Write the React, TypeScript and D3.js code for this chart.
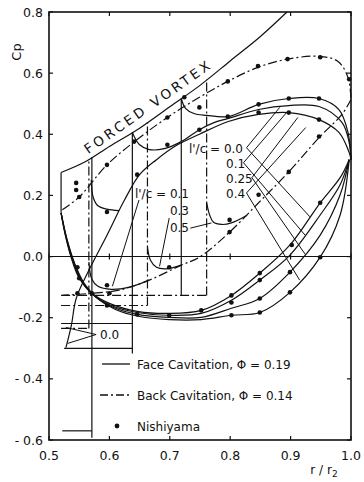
import React from 'react';
import * as d3 from 'd3';

type Pt = [number, number];

const xTicks = [0.5, 0.6, 0.7, 0.8, 0.9, 1.0];
const xTickLabels = ['0.5', '0.6', '0.7', '0.8', '0.9', '1.0'];
const yTicks = [0.8, 0.6, 0.4, 0.2, 0.0, -0.2, -0.4, -0.6];
const yTickLabels = ['0.8', '0.6', '0.4', '0.2', '0.0', '-0.2', '- 0.4', '- 0.6'];

// forced vortex line
const forcedVortex: Pt[] = [[0.52, 0.275], [0.56, 0.31], [0.6, 0.36], [0.65, 0.42], [0.7, 0.49], [0.75, 0.56], [0.8, 0.64], [0.85, 0.72], [0.894, 0.8]];

// back cavitation (dash-dot), outer loop
const backUpper: Pt[] = [[0.522, 0.153], [0.55, 0.195], [0.596, 0.3], [0.646, 0.383], [0.696, 0.455], [0.749, 0.521], [0.796, 0.573], [0.846, 0.619], [0.895, 0.646], [0.947, 0.655], [0.978, 0.639], [0.995, 0.586], [1.0, 0.514]];
const backLower: Pt[] = [[1.0, 0.514], [0.985, 0.465], [0.949, 0.393], [0.897, 0.277], [0.847, 0.176], [0.799, 0.08], [0.749, -0.002], [0.719, -0.028], [0.666, -0.077], [0.616, -0.11], [0.571, -0.12], [0.522, -0.127]];

// face cavitation upper branches
const faceUpper0: Pt[] = [[0.528, -0.298], [0.537, -0.225], [0.545, -0.137], [0.566, -0.045], [0.596, 0.07], [0.625, 0.185], [0.65, 0.268], [0.678, 0.317], [0.708, 0.36], [0.749, 0.4], [0.797, 0.442], [0.847, 0.465], [0.897, 0.471], [0.947, 0.448], [0.98, 0.406], [0.997, 0.34], [1.0, 0.317]];
const faceUpper1: Pt[] = [[0.638, 0.407], [0.641, 0.393], [0.65, 0.366], [0.666, 0.35], [0.691, 0.353], [0.719, 0.376], [0.749, 0.415], [0.774, 0.439], [0.797, 0.452], [0.847, 0.481], [0.897, 0.494], [0.947, 0.491], [0.985, 0.439], [0.997, 0.373], [1.0, 0.317]];
const faceUpper2: Pt[] = [[0.719, 0.517], [0.726, 0.485], [0.74, 0.468], [0.761, 0.462], [0.797, 0.458], [0.847, 0.498], [0.897, 0.517], [0.947, 0.517], [0.98, 0.481], [0.995, 0.406], [1.0, 0.317]];

// face cavitation lower branches, l'/c = 0.0, 0.1, 0.25, 0.4
const faceLower0: Pt[] = [[0.52, 0.143], [0.527, 0.07], [0.537, -0.005], [0.55, -0.071], [0.571, -0.12], [0.6, -0.153], [0.646, -0.179], [0.699, -0.186], [0.752, -0.176], [0.802, -0.127], [0.849, -0.054], [0.899, 0.038], [0.949, 0.176], [0.982, 0.258], [0.997, 0.317]];
const faceLower1: Pt[] = [[0.52, 0.143], [0.528, 0.065], [0.539, -0.012], [0.553, -0.078], [0.574, -0.127], [0.603, -0.16], [0.646, -0.183], [0.699, -0.192], [0.752, -0.186], [0.802, -0.143], [0.849, -0.077], [0.899, 0.005], [0.949, 0.136], [0.982, 0.235], [0.997, 0.317]];
const faceLower25: Pt[] = [[0.52, 0.143], [0.529, 0.06], [0.541, -0.018], [0.556, -0.084], [0.578, -0.133], [0.606, -0.166], [0.646, -0.189], [0.699, -0.199], [0.752, -0.199], [0.802, -0.169], [0.849, -0.137], [0.899, -0.051], [0.949, 0.07], [0.982, 0.202], [0.997, 0.317]];
const faceLower4: Pt[] = [[0.52, 0.143], [0.53, 0.055], [0.543, -0.025], [0.559, -0.09], [0.582, -0.14], [0.61, -0.173], [0.65, -0.196], [0.699, -0.206], [0.752, -0.206], [0.802, -0.192], [0.849, -0.183], [0.899, -0.117], [0.949, -0.002], [0.982, 0.136], [0.997, 0.317]];

// cavity closure hooks
const hookFace92: Pt[] = [[0.57, 0.251], [0.573, 0.195], [0.581, 0.166], [0.596, 0.155], [0.616, 0.15]];
const hookBack01: Pt[] = [[0.566, -0.018], [0.571, -0.074], [0.581, -0.097], [0.603, -0.107], [0.633, -0.1], [0.666, -0.077]];
const hookBack03: Pt[] = [[0.663, 0.031], [0.668, -0.012], [0.678, -0.035], [0.694, -0.04], [0.719, -0.028]];
const hookBack05: Pt[] = [[0.761, 0.176], [0.766, 0.136], [0.772, 0.113], [0.786, 0.105], [0.802, 0.11], [0.828, 0.135]];

// cavity pressure lines and closure jumps (solid: face, dash-dot: back)
const faceSegments: Pt[][] = [
  [[0.52, 0.275], [0.52, 0.143]],
  [[0.571, -0.593], [0.571, 0.326]],
  [[0.522, -0.57], [0.571, -0.57]],
  [[0.638, -0.317], [0.638, 0.407]],
  [[0.52, -0.219], [0.638, -0.219]],
  [[0.525, -0.3], [0.638, -0.3]],
  [[0.719, -0.127], [0.719, 0.517]],
];
const backSegments: Pt[][] = [
  [[0.52, -0.127], [0.761, -0.127]],
  [[0.761, -0.127], [0.761, 0.58]],
  [[0.52, -0.16], [0.663, -0.16]],
  [[0.663, -0.16], [0.663, 0.44]],
  [[0.52, -0.235], [0.566, -0.235]],
  [[0.566, -0.235], [0.566, 0.32]],
];

// Nishiyama points
const nishiyama: Pt[] = [
  [0.545, 0.241], [0.545, 0.218], [0.55, 0.195], [0.596, 0.3], [0.641, 0.376], [0.696, 0.455],
  [0.796, 0.573], [0.846, 0.623], [0.895, 0.646], [0.949, 0.652], [0.997, 0.58],
  [0.724, 0.521], [0.749, 0.488], [0.749, 0.415], [0.696, 0.366], [0.796, 0.458],
  [0.847, 0.498], [0.847, 0.471], [0.897, 0.517], [0.897, 0.471], [0.947, 0.517], [0.947, 0.448], [0.947, 0.393],
  [0.949, 0.176], [0.902, 0.038], [0.949, -0.002], [0.849, -0.054], [0.849, -0.077], [0.899, -0.051],
  [0.899, -0.117], [0.802, -0.127], [0.802, -0.15], [0.849, -0.137], [0.849, -0.183], [0.802, -0.192], [0.752, -0.176],
  [0.799, 0.12], [0.799, 0.08], [0.847, 0.202], [0.897, 0.277],
  [0.596, 0.146], [0.646, 0.268], [0.547, -0.035], [0.55, -0.071], [0.596, -0.094], [0.6, -0.12],
  [0.571, -0.12], [0.547, -0.12], [0.596, -0.16], [0.646, -0.189], [0.699, -0.192], [0.699, -0.035],
];

// labels: face l'/c values and their "<" leaders [vertex, up end, down end]
const faceLabels = ["l'/c = 0.0", '0.1', '0.25', '0.4'];
const faceLeaders: Pt[][] = [
  [[0.827, 0.356], [0.882, 0.488], [0.932, 0.13]],
  [[0.822, 0.307], [0.895, 0.475], [0.924, 0.07]],
  [[0.836, 0.258], [0.912, 0.455], [0.924, 0.008]],
  [[0.827, 0.208], [0.925, 0.422], [0.915, -0.077]],
];
const backLabels = ["l'/c = 0.1", '0.3', '0.5'];
const backLeaders: Pt[][] = [
  [[0.649, 0.185], [0.605, -0.097]],
  [[0.699, 0.126], [0.683, -0.032]],
  [[0.734, 0.093], [0.769, 0.11]],
];

const legendItems = ['Face Cavitation, \u03A6 = 0.19', 'Back Cavitation, \u03A6 = 0.14', 'Nishiyama'];

const DASHDOT = '9,3,2,3';

export default function App() {
  const x = d3.scaleLinear().domain([0.5, 1.0]).range([49, 351]);
  const y = d3.scaleLinear().domain([-0.6, 0.8]).range([440, 12]);
  const smooth = d3.line<Pt>().x(d => x(d[0])).y(d => y(d[1])).curve(d3.curveCatmullRom.alpha(0.5));
  const straight = d3.line<Pt>().x(d => x(d[0])).y(d => y(d[1]));

  const faceCurves = [faceUpper0, faceUpper1, faceUpper2, faceLower0, faceLower1, faceLower25, faceLower4, hookFace92, hookBack01, hookBack03, hookBack05];
  const backCurves = [backUpper, backLower];

  const ink = '#111';
  const sw = 1.2;

  return (
    <svg width={364} height={482} style={{ position: 'absolute', left: 0, top: 0, background: '#fff' }}
      fontFamily="'DejaVu Sans', sans-serif" fill="none">
      {/* frame */}
      <rect x={x(0.5)} y={y(0.8)} width={x(1.0) - x(0.5)} height={y(-0.6) - y(0.8)} stroke={ink} strokeWidth={1.6} />
      {/* zero line */}
      <line x1={x(0.5)} x2={x(1.0)} y1={y(0)} y2={y(0)} stroke={ink} strokeWidth={1.1} />
      {/* ticks */}
      {xTicks.map((t, i) => (
        <g key={'xt' + i} stroke={ink} strokeWidth={1.2}>
          <line x1={x(t)} x2={x(t)} y1={y(-0.6)} y2={y(-0.6) - 4} />
          <line x1={x(t)} x2={x(t)} y1={y(0.8)} y2={y(0.8) + 4} />
          <line x1={x(t)} x2={x(t)} y1={y(0) - 3} y2={y(0) + 3} />
        </g>
      ))}
      {yTicks.map((t, i) => (
        <g key={'yt' + i} stroke={ink} strokeWidth={1.2}>
          <line x1={x(0.5)} x2={x(0.5) + 4} y1={y(t)} y2={y(t)} />
          <line x1={x(1.0)} x2={x(1.0) - 4} y1={y(t)} y2={y(t)} />
        </g>
      ))}
      {/* tick labels */}
      {xTicks.map((t, i) => (
        <text key={'xl' + i} x={x(t)} y={460} textAnchor="middle" fontSize={12.5} fill={ink}>{xTickLabels[i]}</text>
      ))}
      {yTicks.map((t, i) => (
        <text key={'yl' + i} x={43} y={y(t) + 4.5} textAnchor="end" fontSize={12.5} fill={ink}>{yTickLabels[i]}</text>
      ))}
      <text transform="translate(21,52) rotate(-90)" textAnchor="middle" fontSize={13} fill={ink}>Cp</text>
      <text x={324} y={474} textAnchor="middle" fontSize={12} fill={ink}>
        r / r<tspan fontSize={9} dy={3}>2</tspan>
      </text>

      {/* forced vortex */}
      <path d={smooth(forcedVortex) || ''} stroke={ink} strokeWidth={sw} />
      <text transform={`translate(${x(0.565)},${y(0.318) - 5}) rotate(-35)`} fontSize={13.5} fill={ink}
        textLength={150} lengthAdjust="spacing">FORCED VORTEX</text>

      {/* cavity segments */}
      {faceSegments.map((s, i) => (
        <path key={'fs' + i} d={straight(s) || ''} stroke={ink} strokeWidth={sw} />
      ))}
      {backSegments.map((s, i) => (
        <path key={'bs' + i} d={straight(s) || ''} stroke={ink} strokeWidth={sw} strokeDasharray={DASHDOT} />
      ))}

      {/* curves */}
      {faceCurves.map((c, i) => (
        <path key={'fc' + i} d={smooth(c) || ''} stroke={ink} strokeWidth={sw} />
      ))}
      {backCurves.map((c, i) => (
        <path key={'bc' + i} d={smooth(c) || ''} stroke={ink} strokeWidth={sw} strokeDasharray={DASHDOT} />
      ))}

      {/* Nishiyama */}
      {nishiyama.map((p, i) => (
        <circle key={'n' + i} cx={x(p[0])} cy={y(p[1])} r={2.3} fill={ink} />
      ))}

      {/* face labels */}
      {faceLabels.map((t, i) => (
        <text key={'fl' + i} x={i === 0 ? 243 : 226} y={153 + i * 15} textAnchor={i === 0 ? 'end' : 'start'} fontSize={12} fill={ink}>{t}</text>
      ))}
      {faceLeaders.map((l, i) => (
        <path key={'fld' + i} d={straight([l[1], l[0], l[2]]) || ''} stroke={ink} strokeWidth={1} />
      ))}
      {/* back labels */}
      {backLabels.map((t, i) => (
        <text key={'bl' + i} x={189} y={198 + i * 17} textAnchor="end" fontSize={12} fill={ink}>{t}</text>
      ))}
      {backLeaders.map((l, i) => (
        <path key={'bld' + i} d={straight(l) || ''} stroke={ink} strokeWidth={1} />
      ))}

      {/* 0.0 box marker */}
      <path d={`M${x(0.528)},${y(-0.232)} L${x(0.578)},${y(-0.255)} L${x(0.531)},${y(-0.284)}`} stroke={ink} strokeWidth={1} />
      <text x={100} y={339} fontSize={12} fill={ink}>0.0</text>

      {/* legend */}
      <line x1={102} x2={130} y1={364} y2={364} stroke={ink} strokeWidth={1.3} />
      <line x1={100} x2={130} y1={395} y2={395} stroke={ink} strokeWidth={1.3} strokeDasharray="8,3,2,3" />
      <circle cx={117} cy={426} r={2.4} fill={ink} />
      {legendItems.map((t, i) => (
        <text key={'lg' + i} x={137} y={368.5 + i * 31} fontSize={12} fill={ink}>{t}</text>
      ))}
    </svg>
  );
}
